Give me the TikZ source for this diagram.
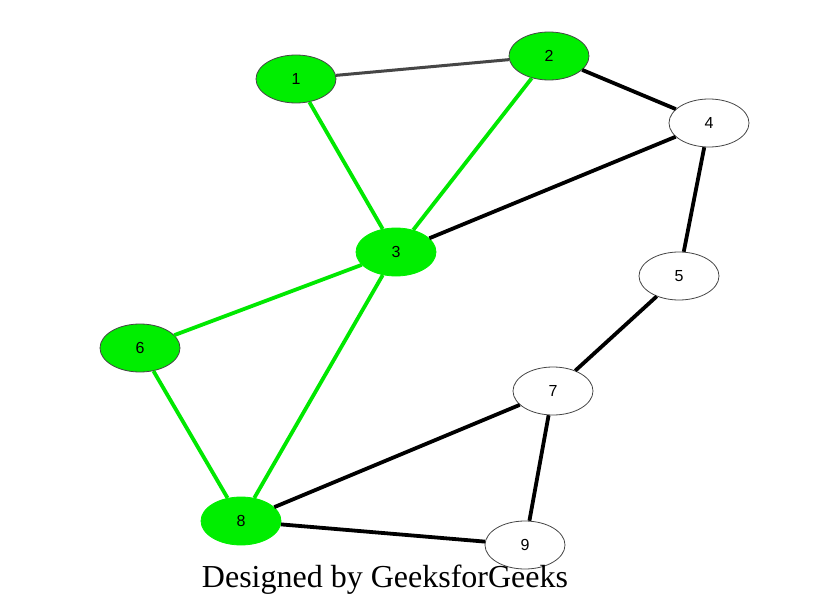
\documentclass[tikz,border=0pt]{standalone}
\usepackage{fontspec}
\setmainfont{Liberation Serif}
\newfontfamily\labelfont{Liberation Sans}
\usetikzlibrary{shapes.geometric}
\definecolor{nodegreen}{RGB}{0,238,0}
\definecolor{edgegreen}{RGB}{0,232,0}
\definecolor{rimgray}{RGB}{70,70,70}
\tikzset{
  vtx/.style={ellipse, minimum width=80pt, minimum height=48pt, inner sep=0pt,
    font=\labelfont\fontsize{16}{16}\selectfont, line width=0.8pt},
  vgreen/.style={vtx, fill=nodegreen, draw=rimgray},
  vgreenplain/.style={vtx, fill=nodegreen, draw=nodegreen},
  vwhite/.style={vtx, fill=white, draw=rimgray},
  eblack/.style={line width=3.8pt, black},
  egray/.style={line width=3pt, rimgray},
  egreen/.style={line width=3.8pt, edgegreen},
}
\begin{document}
\begin{tikzpicture}[x=1pt, y=-1pt]
  \useasboundingbox[fill=white] (0,0) rectangle (840,596);

  % vertex positions
  \coordinate (p1) at (296,79);
  \coordinate (p2) at (549,56);
  \coordinate (p3) at (396,252);
  \coordinate (p4) at (709,123);
  \coordinate (p5) at (679,276);
  \coordinate (p6) at (140,348);
  \coordinate (p7) at (553,391);
  \coordinate (p8) at (241,521);
  \coordinate (p9) at (525,545);

  % vertices
  \node[vgreen] (n1) at (p1) {1};
  \node[vgreen] (n2) at (p2) {2};
  \node[vgreenplain] (n3) at (p3) {3};
  \node[vwhite] (n4) at (p4) {4};
  \node[vwhite] (n5) at (p5) {5};
  \node[vgreen] (n6) at (p6) {6};
  \node[vwhite] (n7) at (p7) {7};
  \node[vgreenplain] (n8) at (p8) {8};
  \node[vwhite] (n9) at (p9) {9};

  % edges, border to border
  \draw[egray]  (n1) -- (n2);
  \draw[eblack] (n2) -- (n4);
  \draw[eblack] (n4) -- (n3);
  \draw[eblack] (n4) -- (n5);
  \draw[eblack] (n5) -- (n7);
  \draw[eblack] (n7) -- (n8);
  \draw[eblack] (n7) -- (n9);
  \draw[eblack] (n8) -- (n9);
  \draw[egreen] (n1) -- (n3);
  \draw[egreen] (n2) -- (n3);
  \draw[egreen] (n3) -- (n6);
  \draw[egreen] (n3) -- (n8);
  \draw[egreen] (n6) -- (n8);

  % caption
  \node[anchor=base, inner sep=0pt] (cap) at (385,587)
    {\resizebox{366pt}{!}{Designed by GeeksforGeeks}};
\end{tikzpicture}
\end{document}
